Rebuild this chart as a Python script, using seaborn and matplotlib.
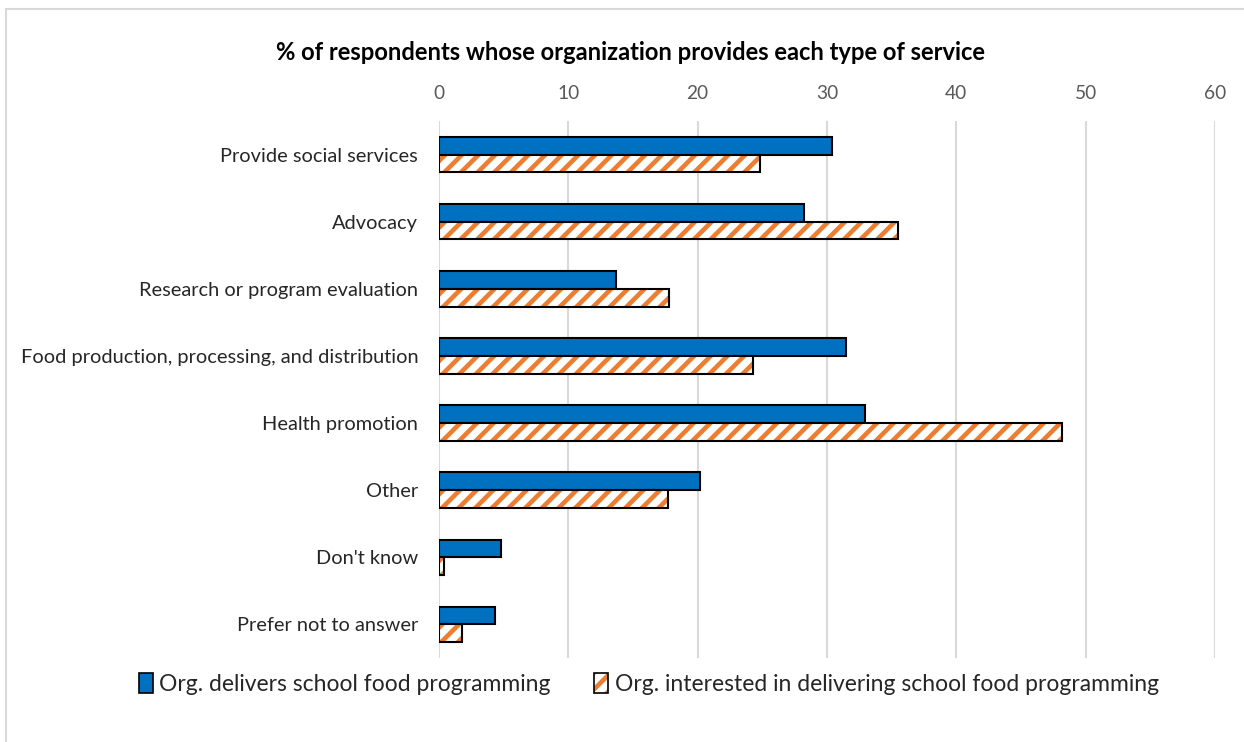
import matplotlib
matplotlib.use("Agg")
import matplotlib.pyplot as plt
from matplotlib.patches import Rectangle, Patch
from matplotlib.lines import Line2D
from matplotlib.legend_handler import HandlerTuple
import seaborn as sns
import pandas as pd

categories = [
    "Provide social services",
    "Advocacy",
    "Research or program evaluation",
    "Food production, processing, and distribution",
    "Health promotion",
    "Other",
    "Don't know",
    "Prefer not to answer",
]
delivers = [30.4, 28.2, 13.7, 31.5, 32.9, 20.2, 4.8, 4.3]
interested = [24.8, 35.5, 17.8, 24.3, 48.2, 17.7, 0.4, 1.8]
series_names = [
    "Org. delivers school food programming",
    "Org. interested in delivering school food programming",
]
x_ticks = [0, 10, 20, 30, 40, 50, 60]
title = "% of respondents whose organization provides each type of service"

BLUE = "#0070C0"
ORANGE = "#ED7D31"
GRID = "#D9D9D9"

df = pd.DataFrame({
    "category": categories * 2,
    "series": [series_names[0]] * len(categories) + [series_names[1]] * len(categories),
    "value": delivers + interested,
})

sns.set_theme(style="white")
plt.rcParams["font.family"] = ["Lato", "DejaVu Sans"]
plt.rcParams["hatch.linewidth"] = 2.2

DPI = 150
fig = plt.figure(figsize=(1244 / DPI, 742 / DPI), dpi=DPI)
ax = fig.add_axes([439 / 1244, 1 - 658 / 742, (1215 - 439) / 1244, (658 - 121) / 742])

sns.barplot(
    data=df, y="category", x="value", hue="series", order=categories,
    hue_order=series_names, orient="h", width=0.53, ax=ax,
    palette=[BLUE, "white"], legend=False, saturation=1,
)

n = len(categories)
bars = list(ax.patches)
for i, p in enumerate(bars):
    if i < n:
        p.set_edgecolor("black")
        p.set_linewidth(1.0)
    else:
        # hatched fill in orange, with a separate black outline on top
        p.set_facecolor("white")
        p.set_edgecolor(ORANGE)
        p.set_hatch("///")
        p.set_linewidth(0)
        ax.add_patch(Rectangle(p.get_xy(), p.get_width(), p.get_height(),
                               fill=False, edgecolor="black", linewidth=1.0,
                               zorder=p.get_zorder() + 0.1))

ax.set_xlim(0, 60)
ax.set_xticks(x_ticks)
ax.xaxis.tick_top()
ax.tick_params(axis="x", length=0, pad=9, labelsize=9.2, labelcolor="#595959")
ax.tick_params(axis="y", length=0, pad=10, labelsize=9.6, labelcolor="#262626")
ax.grid(axis="x", color=GRID, linewidth=1.0)
ax.set_axisbelow(True)
for s in ax.spines.values():
    s.set_visible(False)
ax.set_xlabel("")
ax.set_ylabel("")

fig.text(631 / 1244, 1 - 52 / 742, title, ha="center", va="center",
         fontsize=11.4, fontweight="bold", color="#000000")

blue_handle = Patch(facecolor=BLUE, edgecolor="black", linewidth=0.8)
hatch_fill = Patch(facecolor="white", edgecolor=ORANGE, hatch="///", linewidth=0)
hatch_edge = Patch(fill=False, edgecolor="black", linewidth=0.8)
leg = fig.legend([blue_handle, (hatch_fill, hatch_edge)], series_names, loc="center",
                 bbox_to_anchor=(649 / 1244, 1 - 684 / 742),
                 ncol=2, frameon=False, fontsize=11, handlelength=0.6, handleheight=1.0,
                 handletextpad=0.3, columnspacing=1.9, labelcolor="#262626",
                 handler_map={tuple: HandlerTuple(ndivide=1, pad=0)})

# chart-area frame (top and left edges)
fig.add_artist(Line2D([6 / 1244, 1], [1 - 9 / 742, 1 - 9 / 742], color=GRID,
                      linewidth=1.0, transform=fig.transFigure))
fig.add_artist(Line2D([6 / 1244, 6 / 1244], [0, 1 - 9 / 742], color=GRID,
                      linewidth=1.0, transform=fig.transFigure))

fig.savefig("out.png", dpi=DPI, facecolor="white")
